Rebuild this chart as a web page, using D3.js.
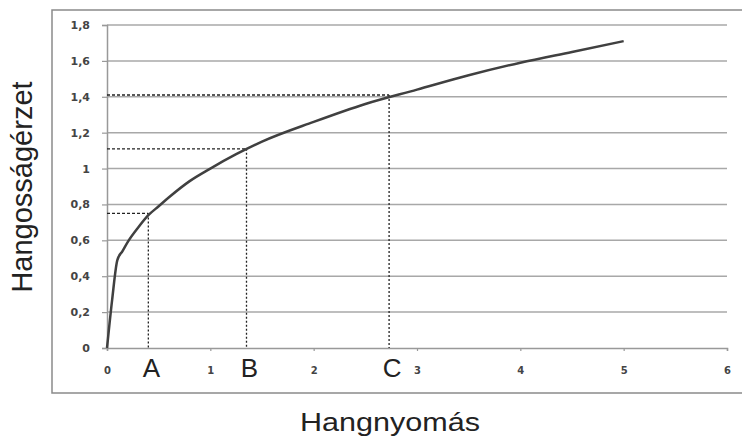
<!DOCTYPE html>
<html>
<head>
<meta charset="utf-8">
<script src="https://cdn.jsdelivr.net/npm/d3@7"></script>
<style>
  body { margin: 0; background: #fff; }
</style>
</head>
<body>
<svg id="chart"></svg>
<script>
// data
var curveX = [0, 0.05, 0.1, 0.15, 0.2, 0.3, 0.4, 0.5, 0.6, 0.8, 1, 1.25, 1.5, 2, 2.5, 3, 3.5, 4, 4.5, 5];
var curveY = [0, 0.27, 0.49, 0.54, 0.59, 0.67, 0.74, 0.79, 0.84, 0.93, 1.0, 1.08, 1.15, 1.26, 1.36, 1.44, 1.52, 1.59, 1.65, 1.71];
var markNames = ["A", "B", "C"];
var markX = [0.4, 1.35, 2.73];
var markY = [0.75, 1.11, 1.41];
var xTicks = [0, 1, 2, 3, 4, 5, 6];
var yTicks = [0, 0.2, 0.4, 0.6, 0.8, 1, 1.2, 1.4, 1.6, 1.8];
var xTitle = "Hangnyomás";
var yTitle = "Hangosságérzet";

var svgWidth = 742, svgHeight = 439;
var margin = {top: 25, bottom: 91, left: 107, right: 15};
var graphWidth  = svgWidth - margin.left - margin.right;
var graphHeight = svgHeight - margin.top - margin.bottom;

var svg = d3.select("#chart").attr("width", svgWidth).attr("height", svgHeight);

var xScale = d3.scaleLinear().domain([0, 6]).range([margin.left, margin.left + graphWidth]);
var yScale = d3.scaleLinear().domain([0, 1.8]).range([margin.top + graphHeight, margin.top]);

function fmt(v) { return String(+v.toFixed(1)).replace(".", ","); }

// outer frame
svg.append("rect").attr("x", 52).attr("y", 10).attr("width", 700).attr("height", 383)
   .style("fill", "none").style("stroke", "#8a8a8a").style("stroke-width", 1.5);

// gridlines
svg.append("g").selectAll("line").data(yTicks.slice(1)).join("line")
   .attr("x1", xScale(0)).attr("x2", xScale(6))
   .attr("y1", d => yScale(d)).attr("y2", d => yScale(d))
   .style("stroke", "#a8a8a8").style("stroke-width", 1.5);

// y axis
var yAxis = svg.append("g").attr("transform", "translate(" + margin.left + ",0)")
   .call(d3.axisLeft(yScale).tickValues(yTicks).tickFormat(fmt).tickSize(5).tickPadding(12));
// x axis
var xAxis = svg.append("g").attr("transform", "translate(0," + yScale(0) + ")")
   .call(d3.axisBottom(xScale).tickValues(xTicks).tickFormat(d3.format("d")).tickSize(3).tickPadding(16));

[yAxis, xAxis].forEach(function(ax) {
  ax.select(".domain").style("stroke", "#999").style("stroke-width", 1.5);
  ax.selectAll(".tick line").style("stroke", "#999").style("stroke-width", 1.2);
  ax.selectAll("text").style("font-family", "DejaVu Sans").style("font-weight", "bold").style("fill", "#444");
});
yAxis.selectAll("text").style("font-size", "11px");
xAxis.selectAll("text").style("font-size", "10px");

// dashed guide lines
var marks = markNames.map((n, i) => ({name: n, x: markX[i], y: markY[i]}));
svg.append("g").selectAll("line").data(marks).join("line")
   .attr("x1", xScale(0)).attr("x2", d => xScale(d.x))
   .attr("y1", d => yScale(d.y)).attr("y2", d => yScale(d.y))
   .style("stroke", "#222").style("stroke-width", 1.3).style("stroke-dasharray", "3,2");
svg.append("g").selectAll("line").data(marks).join("line")
   .attr("x1", d => xScale(d.x)).attr("x2", d => xScale(d.x))
   .attr("y1", d => yScale(d.y)).attr("y2", yScale(0))
   .style("stroke", "#222").style("stroke-width", 1.3).style("stroke-dasharray", "2,2");

// curve
var pts = curveX.map((x, i) => [x, curveY[i]]);
svg.append("path").datum(pts)
   .attr("d", d3.line().x(d => xScale(d[0])).y(d => yScale(d[1])).curve(d3.curveMonotoneX))
   .style("fill", "none").style("stroke", "#404040").style("stroke-width", 2.5);

// letters
svg.append("g").selectAll("text").data(marks).join("text")
   .attr("x", d => xScale(d.x) + 3).attr("y", 377)
   .text(d => d.name)
   .style("font-family", "Liberation Sans, Arial").style("font-size", "26px")
   .style("fill", "#222").style("text-anchor", "middle");

// axis titles
svg.append("text").attr("x", 390).attr("y", 431).text(xTitle)
   .attr("textLength", 180).attr("lengthAdjust", "spacingAndGlyphs")
   .style("font-family", "Liberation Sans, Arial").style("font-size", "26px")
   .style("fill", "#222").style("text-anchor", "middle");
svg.append("text").attr("transform", "translate(32,187) rotate(-90)").text(yTitle)
   .style("font-family", "Liberation Sans, Arial").style("font-size", "29px")
   .style("fill", "#222").style("text-anchor", "middle");
</script>
</body>
</html>
